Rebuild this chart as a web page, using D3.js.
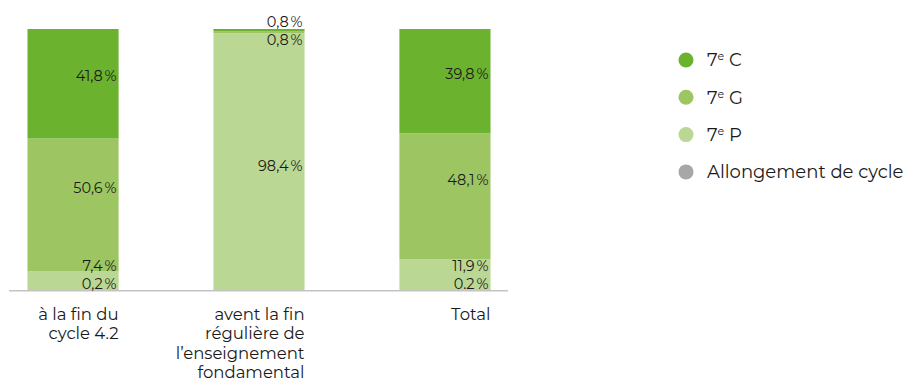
<!DOCTYPE html>
<html>
<head>
<meta charset="utf-8">
<script src="https://cdn.jsdelivr.net/npm/d3@7"></script>
<style>
  html, body { margin: 0; padding: 0; background: #fff; }
  svg { display: block; font-family: "Montserrat", "Lato", "Noto Sans", sans-serif; }
</style>
</head>
<body>
<svg id="chart" width="906" height="381"></svg>
<script>
// Categories (each may wrap on several lines)
const categories = ["cycle", "avant", "total"];
const categoryLines = [
  ["à la fin du", "cycle 4.2"],
  ["avent la fin", "régulière de", "l’enseignement", "fondamental"],
  ["Total"]
];

// Series, bottom to top of each stack
const seriesKeys = ["allong", "p", "g", "c"];
const seriesNames = ["Allongement de cycle", "7e P", "7e G", "7e C"];
const seriesColors = ["#a9a6a7", "#bad893", "#9dc662", "#6bb22e"];

// Percentages per category (same order as categories)
const allongValues = [0.2, 0.0, 0.2];
const pValues = [7.4, 98.4, 11.9];
const gValues = [50.6, 0.8, 48.1];
const cValues = [41.8, 0.8, 39.8];

// Label texts as printed
const allongLabels = ["0,2\u2009%", null, "0.2\u2009%"];
const pLabels = ["7,4\u2009%", "98,4\u2009%", "11,9\u2009%"];
const gLabels = ["50,6\u2009%", "0,8\u2009%", "48,1\u2009%"];
const cLabels = ["41,8\u2009%", "0,8\u2009%", "39,8\u2009%"];

const valuesBySeries = [allongValues, pValues, gValues, cValues];
const labelsBySeries = [allongLabels, pLabels, gLabels, cLabels];

const rows = categories.map((cat, i) => {
  const r = { cat };
  seriesKeys.forEach((k, s) => r[k] = valuesBySeries[s][i]);
  return r;
});

const svg = d3.select("#chart");
const plot = { left: 10, right: 508, top: 29, bottom: 291 };

const x = d3.scaleBand()
  .domain(categories)
  .range([plot.left, plot.right])
  .paddingInner(0.51)
  .paddingOuter(0.094);

const y = d3.scaleLinear().domain([0, 100]).range([plot.bottom, plot.top]);

const stack = d3.stack().keys(seriesKeys);
const stacked = stack(rows);

// Bars
svg.append("g")
  .selectAll("g")
  .data(stacked)
  .join("g")
  .attr("fill", (d, i) => seriesColors[i])
  .selectAll("rect")
  .data(d => d)
  .join("rect")
  .attr("x", d => x(d.data.cat))
  .attr("width", x.bandwidth())
  .attr("y", d => y(d[1]))
  .attr("height", d => Math.max(0, y(d[0]) - y(d[1])));

// Baseline
svg.append("line")
  .attr("x1", 9).attr("x2", plot.right)
  .attr("y1", plot.bottom - 0.3).attr("y2", plot.bottom - 0.3)
  .attr("stroke", "#c4c4c4").attr("stroke-width", 1.5);

// Value labels: placed a little above segment middle, then spread apart
// where segments are too thin to hold them
const anchorFrac = [0.5, 0.515, 0.37, 0.43]; // fraction down from segment top
const gap = 18;
const yMax = 283.5, yMin = 19.5;
categories.forEach((cat, ci) => {
  let labels = [];
  stacked.forEach((s, si) => {
    const txt = labelsBySeries[si][ci];
    if (!txt) return;
    const seg = s[ci];
    const top = y(seg[1]), bot = y(seg[0]);
    labels.push({ txt, y: top + anchorFrac[si] * (bot - top) });
  });
  // labels ordered bottom (large y) to top
  for (let iter = 0; iter < 50; iter++) {
    labels.forEach(l => { l.y = Math.min(yMax, Math.max(yMin, l.y)); });
    let moved = false;
    for (let i = 1; i < labels.length; i++) {
      const lo = labels[i - 1], hi = labels[i];
      const d = lo.y - hi.y;
      if (d < gap) {
        const shift = (gap - d) / 2;
        lo.y += shift; hi.y -= shift;
        moved = true;
      }
    }
    if (!moved) break;
  }
  labels.forEach(l => { l.y = Math.min(yMax, Math.max(yMin, l.y)); });
  for (let i = 1; i < labels.length; i++) {
    if (labels[i - 1].y - labels[i].y < gap) labels[i].y = labels[i - 1].y - gap;
  }
  svg.append("g")
    .selectAll("text")
    .data(labels)
    .join("text")
    .attr("x", x(cat) + x.bandwidth() - 2)
    .attr("y", d => d.y)
    .attr("dy", "0.35em")
    .attr("text-anchor", "end")
    .attr("font-size", 14.5)
    .attr("fill", "#1a1a1a")
    .text(d => d.txt);
});

// Category labels, right aligned under each bar
categories.forEach((cat, ci) => {
  const t = svg.append("text")
    .attr("x", x(cat) + x.bandwidth())
    .attr("y", 319.5)
    .attr("text-anchor", "end")
    .attr("font-size", 16.5)
    .attr("fill", "#1a1a1a");
  categoryLines[ci].forEach((line, li) => {
    t.append("tspan")
      .attr("x", x(cat) + x.bandwidth())
      .attr("dy", li === 0 ? 0 : 19.5)
      .text(line);
  });
});

// Legend, top series first
const legendOrder = [3, 2, 1, 0];
const legend = svg.append("g").attr("transform", "translate(686,60)");
legendOrder.forEach((si, i) => {
  const g = legend.append("g").attr("transform", `translate(0,${i * 37.3})`);
  g.append("circle").attr("r", 7.5).attr("fill", seriesColors[si]);
  const t = g.append("text")
    .attr("x", 21).attr("y", 0).attr("dy", "0.36em")
    .attr("font-size", 18).attr("fill", "#1a1a1a");
  const name = seriesNames[si];
  const m = name.match(/^(\d+)e (.*)$/);
  if (m) {
    t.append("tspan").text(m[1]);
    t.append("tspan").attr("font-size", 11).attr("dy", -6).text("e");
    t.append("tspan").attr("dy", 6).text("\u00a0" + m[2]);
  } else {
    t.text(name);
  }
});
</script>
</body>
</html>
